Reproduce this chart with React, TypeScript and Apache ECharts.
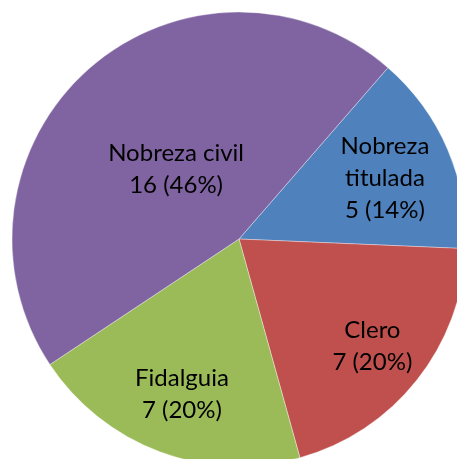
import React, { useEffect, useRef } from "react";
import * as echarts from "echarts";

const categories = ["Nobreza titulada", "Clero", "Fidalguia", "Nobreza civil"];
const values = [5, 7, 7, 16];
const labelNames = ["Nobreza\ntitulada", "Clero", "Fidalguia", "Nobreza civil"];
const colors = ["#4F81BD", "#C0504D", "#9BBB59", "#8064A2"];
const labelRadiusRatio = [0.7, 0.75, 0.72, 0.42];

export default function App() {
  const ref = useRef<HTMLDivElement>(null);
  useEffect(() => {
    const chart = echarts.init(ref.current!, null, { renderer: "svg" });
    const cx = 239;
    const cy = 239;
    const r = 227;
    chart.setOption({
      animation: false,
      series: [
        {
          type: "pie",
          center: [cx, cy],
          radius: r,
          startAngle: 49,
          clockwise: true,
          silent: true,
          data: categories.map((c, i) => ({
            name: c,
            value: values[i],
            itemStyle: { color: colors[i] },
          })),
          itemStyle: { borderColor: "rgba(255,255,255,0.6)", borderWidth: 0.6 },
          label: {
            show: true,
            position: "inside",
            formatter: (p: any) =>
              `${labelNames[p.dataIndex]}\n${p.value} (${Math.round(p.percent)}%)`,
            fontFamily: "Lato",
            fontSize: 24,
            lineHeight: 32,
            color: "#000",
            align: "center",
          },
          labelLine: { show: false },
          labelLayout: (params: any) => {
            const lr = params.labelRect;
            const lx = lr.x + lr.width / 2;
            const ly = lr.y + lr.height / 2;
            const dx = lx - cx;
            const dy = ly - cy;
            const d = Math.hypot(dx, dy) || 1;
            const target = labelRadiusRatio[params.dataIndex] * r;
            return { dx: (dx / d) * target - dx, dy: (dy / d) * target - dy };
          },
        },
      ],
    });
    return () => chart.dispose();
  }, []);
  return (
    <div
      ref={ref}
      style={{ position: "fixed", left: 0, top: 0, width: 457, height: 459 }}
    />
  );
}
